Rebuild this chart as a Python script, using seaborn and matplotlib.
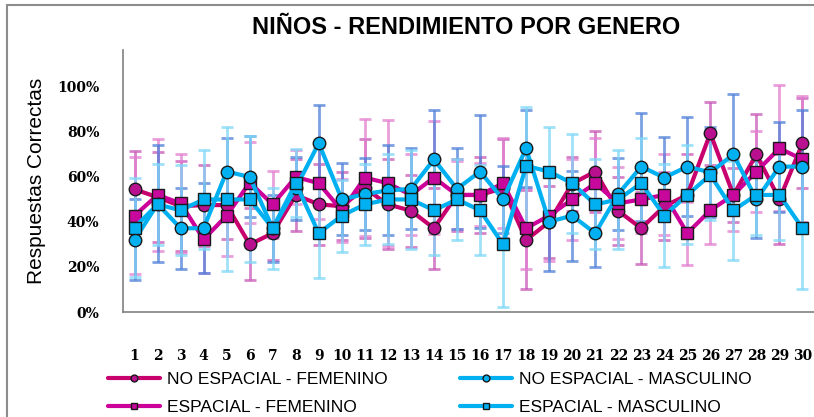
import numpy as np
import pandas as pd
import matplotlib
matplotlib.use("Agg")
import matplotlib.pyplot as plt
import seaborn as sns
from matplotlib.ticker import PercentFormatter
from matplotlib.patches import Rectangle

# data (fraction of correct answers)
preguntas = list(range(1, 31))

no_esp_fem = [0.545, 0.51, 0.47, 0.475, 0.475, 0.30, 0.35, 0.52, 0.478, 0.47,
              0.55, 0.478, 0.45, 0.372, 0.52, 0.52, 0.55, 0.32, 0.40, 0.57,
              0.624, 0.449, 0.372, 0.47, 0.52, 0.794, 0.52, 0.70, 0.50, 0.75]
esp_fem = [0.428, 0.52, 0.483, 0.323, 0.428, 0.575, 0.478, 0.60, 0.572, 0.45,
           0.597, 0.572, 0.52, 0.597, 0.52, 0.52, 0.572, 0.372, 0.428, 0.50,
           0.572, 0.483, 0.50, 0.52, 0.35, 0.452, 0.52, 0.624, 0.727, 0.678]
no_esp_masc = [0.32, 0.48, 0.372, 0.372, 0.624, 0.60, 0.372, 0.55, 0.75, 0.50,
               0.524, 0.54, 0.547, 0.678, 0.547, 0.624, 0.50, 0.727, 0.401, 0.428,
               0.35, 0.524, 0.646, 0.597, 0.646, 0.62, 0.70, 0.50, 0.646, 0.646]
esp_masc = [0.375, 0.478, 0.452, 0.50, 0.50, 0.50, 0.372, 0.572, 0.35, 0.428,
            0.478, 0.50, 0.50, 0.452, 0.50, 0.452, 0.30, 0.649, 0.624, 0.572,
            0.478, 0.50, 0.572, 0.428, 0.52, 0.609, 0.452, 0.52, 0.52, 0.372]

err_no_esp_fem = [0.17, 0.20, 0.20, 0.18, 0.15, 0.16, 0.12, 0.16, 0.18, 0.15,
                  0.22, 0.20, 0.16, 0.18, 0.16, 0.17, 0.22, 0.22, 0.16, 0.12,
                  0.18, 0.15, 0.16, 0.15, 0.18, 0.14, 0.12, 0.18, 0.20, 0.20]
err_esp_fem = [0.26, 0.25, 0.22, 0.15, 0.18, 0.18, 0.15, 0.12, 0.16, 0.14,
               0.26, 0.28, 0.18, 0.25, 0.15, 0.14, 0.20, 0.18, 0.20, 0.18,
               0.20, 0.16, 0.15, 0.18, 0.14, 0.15, 0.16, 0.18, 0.28, 0.28]
err_no_esp_masc = [0.18, 0.26, 0.18, 0.20, 0.15, 0.18, 0.15, 0.14, 0.17, 0.16,
                   0.16, 0.20, 0.18, 0.22, 0.18, 0.25, 0.15, 0.17, 0.22, 0.20,
                   0.15, 0.16, 0.24, 0.18, 0.22, 0.20, 0.27, 0.17, 0.20, 0.25]
err_esp_masc = [0.22, 0.18, 0.20, 0.22, 0.32, 0.28, 0.18, 0.15, 0.20, 0.16,
                0.18, 0.20, 0.22, 0.20, 0.18, 0.20, 0.28, 0.26, 0.20, 0.22,
                0.20, 0.22, 0.20, 0.23, 0.22, 0.20, 0.22, 0.18, 0.20, 0.27]

series = [
    # label, values, errors, line colour, marker colour, marker, errbar colour
    ("NO ESPACIAL - FEMENINO", no_esp_fem, err_no_esp_fem, "#C8006E", "#B8108F", "o", "#C858B8"),
    ("ESPACIAL - FEMENINO", esp_fem, err_esp_fem, "#CC0099", "#C8089C", "s", "#E27FD0"),
    ("NO ESPACIAL - MASCULINO", no_esp_masc, err_no_esp_masc, "#00B0F0", "#00B0F0", "o", "#4F81D9"),
    ("ESPACIAL - MASCULINO", esp_masc, err_esp_masc, "#00B0F0", "#00B0F0", "s", "#7FD7F7"),
]

rows = []
for name, vals, errs, *_ in series:
    for q, v, e in zip(preguntas, vals, errs):
        rows.append({"pregunta": q, "valor": v, "error": e, "serie": name})
df = pd.DataFrame(rows)

sns.set_style("white")
plt.rcParams['font.family'] = ['Liberation Sans', 'DejaVu Sans']
plt.rcParams['text.color'] = 'black'
plt.rcParams['axes.labelcolor'] = 'black'

fig = plt.figure(figsize=(8.14, 4.17), dpi=100)
ax = fig.add_axes([123 / 814, 1 - 312 / 417, (814 - 123) / 814, (312 - 50) / 417])

# chart frame (only top and left edges are visible in the reference)
fig.patches.append(Rectangle((7 / 814, -0.1), 1.2, 1 - 5 / 417 + 0.1,
                             transform=fig.transFigure, fill=False,
                             edgecolor="#8c8c8c", linewidth=1.5, zorder=0))

# error bars first, under the lines
for i, (name, vals, errs, lc, mc, mk, ec) in enumerate(series):
    sub = df[df["serie"] == name]
    ax.errorbar(sub["pregunta"], sub["valor"], yerr=sub["error"], fmt="none",
                ecolor=ec, elinewidth=2, capsize=4, capthick=2, alpha=0.75,
                zorder=1 + i * 0.1)

for i, (name, vals, errs, lc, mc, mk, ec) in enumerate(series):
    sub = df[df["serie"] == name]
    sns.lineplot(data=sub, x="pregunta", y="valor", ax=ax, color=lc, linewidth=3,
                 marker=mk, markersize=9, markerfacecolor=mc, markeredgecolor="#1a1a1a",
                 markeredgewidth=1, label=name, zorder=3 + i)

ax.set_xlim(0.5, 30.28)
ax.set_ylim(0, 1.164)
ax.set_yticks([0, 0.2, 0.4, 0.6, 0.8, 1.0])
ax.yaxis.set_major_formatter(PercentFormatter(1.0, decimals=0))

# excel style: tick marks between categories, labels at the centres
ax.set_xticks([q + 0.5 for q in [0] + preguntas])
ax.set_xticklabels([])
ax.set_xticks(preguntas, minor=True)
ax.set_xticklabels([str(q) for q in preguntas], minor=True)
ax.tick_params(axis="x", which="major", length=6, width=1.2, color="#808080", direction="out")
ax.tick_params(axis="x", which="minor", length=0, pad=27)
ax.tick_params(axis="y", length=7, width=1.2, color="#808080", direction="out", pad=10)
for lab in ax.get_xticklabels(minor=True) + ax.get_yticklabels():
    lab.set_fontfamily("DejaVu Serif")
    lab.set_fontweight("bold")
    lab.set_fontsize(10)
    lab.set_color("black")
ax.set_xlabel("")
ax.set_ylabel("Respuestas Correctas", fontsize=15, labelpad=8)

for s in ["top", "right"]:
    ax.spines[s].set_visible(False)
for s in ["left", "bottom"]:
    ax.spines[s].set_color("#808080")
    ax.spines[s].set_linewidth(1.2)

ax.grid(False)

fig.text(466 / 814, 1 - 27 / 417, "NIÑOS - RENDIMIENTO POR GENERO", fontsize=17,
         fontweight="bold", ha="center", va="center")

handles, labels = ax.get_legend_handles_labels()
ax.legend(handles, labels, ncol=2, loc="upper left",
          bbox_to_anchor=(-0.045, -0.17), frameon=False, fontsize=12.5,
          handlelength=3, handletextpad=0.4, columnspacing=4.2,
          labelspacing=0.7, markerscale=0.55)

fig.savefig("out.png", dpi=100)
